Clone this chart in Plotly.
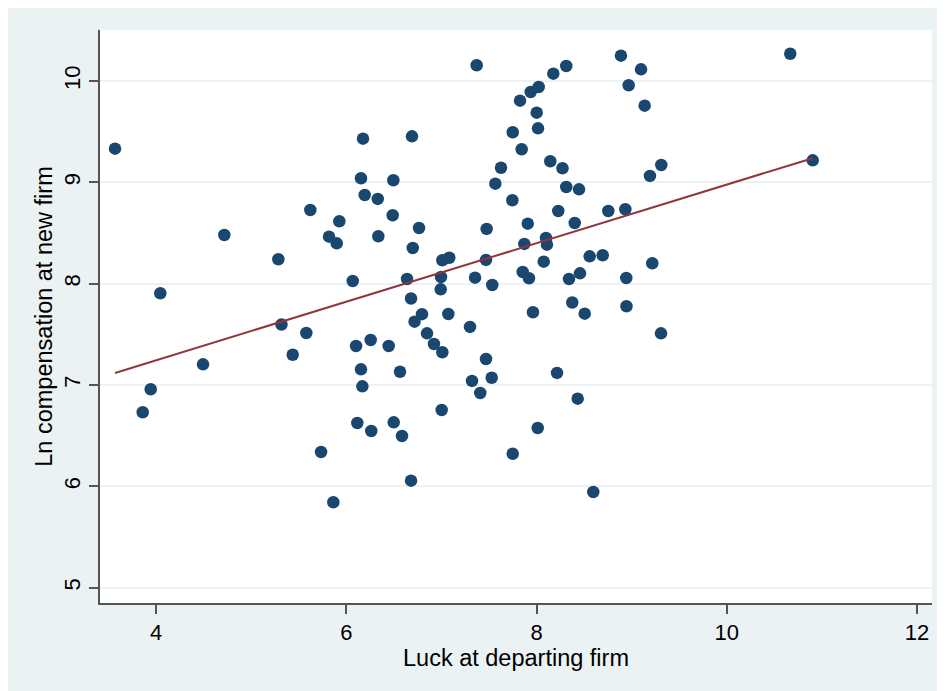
import numpy as np
import plotly.graph_objects as go

# Luck at departing firm (x) and Ln compensation at new firm (y)
luck = [3.569, 3.860, 3.944, 4.045, 4.494, 4.718, 5.286, 5.319, 5.437, 5.580,
        5.622, 5.735, 5.819, 5.900, 5.864, 5.927, 6.068, 6.103, 6.116, 6.155,
        6.155, 6.169, 6.176, 6.194, 6.257, 6.263, 6.331, 6.337, 6.446, 6.495,
        6.488, 6.499, 6.565, 6.586, 6.639, 6.681, 6.691, 6.699, 6.681, 6.718,
        6.796, 6.765, 6.849, 6.922, 7.010, 6.993, 6.996, 7.003, 7.010, 7.083,
        7.073, 7.301, 7.322, 7.354, 7.371, 7.409, 7.469, 7.476, 7.469, 7.529,
        7.535, 7.567, 7.627, 7.746, 7.750, 7.750, 7.827, 7.844, 7.855, 7.872,
        7.908, 7.921, 7.939, 7.963, 8.002, 8.013, 8.016, 8.023, 8.076, 8.100,
        8.110, 8.145, 8.177, 8.216, 8.229, 8.273, 8.313, 8.313, 8.342, 8.376,
        8.402, 8.433, 8.447, 8.457, 8.507, 8.559, 8.597, 8.696, 8.755, 8.888,
        8.934, 8.944, 8.946, 8.969, 9.099, 9.137, 9.193, 9.217, 9.312, 9.309,
        10.668, 10.904]
ln_comp = [9.332, 6.731, 6.958, 7.905, 7.204, 8.480, 8.241, 7.597, 7.299, 7.513,
           8.727, 6.339, 8.464, 8.398, 5.843, 8.616, 8.026, 7.385, 6.625, 9.040,
           7.155, 6.987, 9.431, 8.875, 7.444, 6.546, 8.836, 8.468, 7.385, 9.020,
           8.675, 6.632, 7.131, 6.497, 8.046, 7.854, 9.454, 8.352, 6.056, 7.625,
           7.699, 8.549, 7.510, 7.405, 7.323, 7.944, 8.066, 6.753, 8.231, 8.256,
           7.701, 7.573, 7.040, 8.059, 10.155, 6.921, 8.234, 8.540, 7.257, 7.072,
           7.987, 8.987, 9.144, 8.823, 9.494, 6.322, 9.806, 9.326, 8.115, 8.392,
           8.592, 8.053, 9.891, 7.718, 9.687, 6.576, 9.533, 9.941, 8.217, 8.451,
           8.385, 9.208, 10.072, 7.119, 8.717, 9.139, 10.148, 8.954, 8.046, 7.814,
           8.599, 6.865, 8.931, 8.102, 7.704, 8.270, 5.944, 8.280, 8.717, 10.250,
           8.734, 8.056, 7.777, 9.958, 10.115, 9.756, 9.063, 8.201, 9.171, 7.510,
           10.269, 9.217]

x_ticks = [4, 6, 8, 10, 12]
y_ticks = [5, 6, 7, 8, 9, 10]
x_title = "Luck at departing firm"
y_title = "Ln compensation at new firm"

xa = np.array(luck)
ya = np.array(ln_comp)
slope, intercept = np.polyfit(xa, ya, 1)
fit_x = np.array([xa.min(), xa.max()])
fit_y = intercept + slope * fit_x

BG = "#EAF2F3"
FONT = "Liberation Sans, Arial, Helvetica, sans-serif"

fig = go.Figure()
fig.add_trace(go.Scatter(x=luck, y=ln_comp, mode="markers",
                         marker=dict(color="#1A476F", size=12.5, line=dict(width=0)),
                         showlegend=False, hoverinfo="skip"))
fig.add_trace(go.Scatter(x=fit_x, y=fit_y, mode="lines",
                         line=dict(color="#90353B", width=2),
                         showlegend=False, hoverinfo="skip"))

fig.update_layout(
    width=945, height=691,
    margin=dict(l=92, r=21, t=22, b=96),
    paper_bgcolor=BG, plot_bgcolor="white",
    font=dict(family=FONT, size=22, color="black"),
    xaxis=dict(range=[3.411, 12.158], tickvals=x_ticks, ticktext=[str(v) for v in x_ticks],
               showgrid=False, zeroline=False, showline=True, linecolor="#555555", linewidth=1.5,
               ticks="outside", ticklen=9, tickcolor="#555555", tickwidth=1.5,
               tickfont=dict(size=22), title=dict(text=x_title, font=dict(size=23.5), standoff=2)),
    yaxis=dict(range=[4.849, 10.503], tickvals=y_ticks, ticktext=[str(v) for v in y_ticks],
               showgrid=True, gridcolor=BG, gridwidth=2, zeroline=False,
               showline=True, linecolor="#555555", linewidth=1.5,
               ticks="outside", ticklen=9, tickcolor="#555555", tickwidth=1.5,
               tickangle=-90, tickfont=dict(size=22),
               title=dict(text=y_title, font=dict(size=23.5), standoff=1)),
)

fig.write_html("out.html")
